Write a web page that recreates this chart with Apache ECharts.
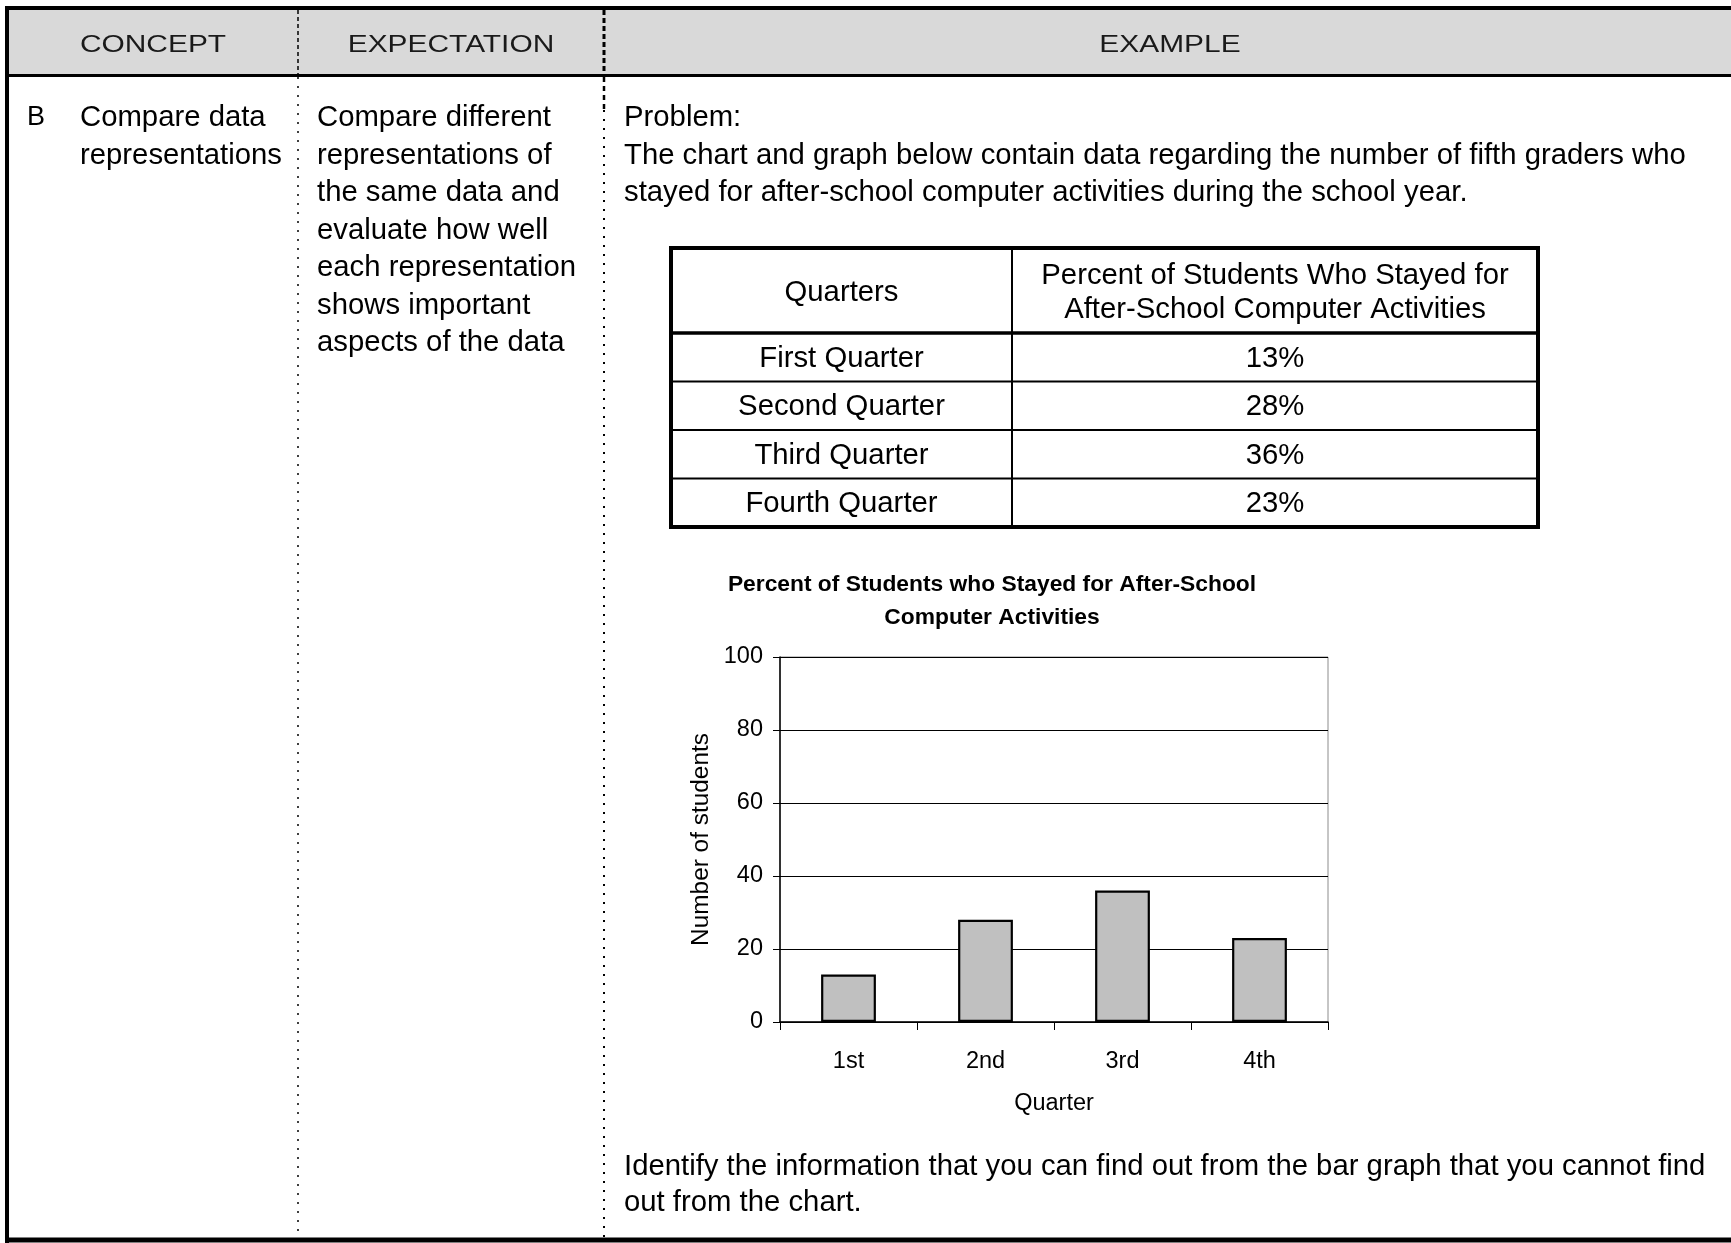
<!DOCTYPE html>
<html>
<head>
<meta charset="utf-8">
<title>Compare data representations</title>
<script src="https://cdn.jsdelivr.net/npm/echarts@6/dist/echarts.min.js"></script>
<style>
  html, body { margin: 0; padding: 0; background: #ffffff; }
  #main { width: 1731px; height: 1243px; }
</style>
</head>
<body>
<div id="main"></div>
<script>
// Quarter data shown both in the table and in the bar graph
const quarterNames = ['First Quarter', 'Second Quarter', 'Third Quarter', 'Fourth Quarter'];
const quarterTicks = ['1st', '2nd', '3rd', '4th'];
const percentStayed = [13, 28, 36, 23];

// Page text
const headerLabels = ['CONCEPT', 'EXPECTATION', 'EXAMPLE'];
const conceptLines = ['Compare data', 'representations'];
const expectationLines = [
  'Compare different',
  'representations of',
  'the same data and',
  'evaluate how well',
  'each representation',
  'shows important',
  'aspects of the data'
];
const problemLines = [
  'Problem:',
  'The chart and graph below contain data regarding the number of fifth graders who',
  'stayed for after-school computer activities during the school year.'
];
const questionLines = [
  'Identify the information that you can find out from the bar graph that you cannot find',
  'out from the chart.'
];
const tableHeader = ['Quarters', 'Percent of Students Who Stayed for\nAfter-School Computer Activities'];
const chartTitle = 'Percent of Students who Stayed for After-School\nComputer Activities';

const FONT = '"Liberation Sans", Arial, Helvetica, sans-serif';
const BODY = 29.3;

function txt(x, y, text, opts) {
  opts = opts || {};
  return {
    type: 'text',
    x: x, y: y,
    scaleX: opts.scaleX || 1,
    z: 10,
    style: {
      text: text,
      fill: opts.fill || '#000',
      fontFamily: FONT,
      fontSize: opts.size || BODY,
      fontWeight: opts.weight || 'normal',
      lineHeight: opts.lineHeight || 34,
      align: opts.align || 'left',
      verticalAlign: 'middle',
      textAlign: opts.align || 'left',
      textVerticalAlign: 'middle'
    }
  };
}
function hline(x1, x2, y, w, dash) {
  return { type: 'line', z: 5, shape: { x1: x1, y1: y, x2: x2, y2: y },
    style: { stroke: '#000', lineWidth: w, lineDash: dash || null } };
}
function vline(x, y1, y2, w, dash) {
  return { type: 'line', z: 5, shape: { x1: x, y1: y1, x2: x, y2: y2 },
    style: { stroke: '#000', lineWidth: w, lineDash: dash || null } };
}

const g = [];

// Header band and frame
g.push({ type: 'rect', z: 1, shape: { x: 9, y: 10, width: 1722, height: 65 }, style: { fill: '#d9d9d9' } });
g.push(hline(5, 1731, 8, 4));
g.push(hline(5, 1731, 75.5, 3));
g.push(hline(5, 1731, 1240, 5));
g.push(vline(7, 6, 1243, 4));

// Column dividers
g.push(vline(298, 10, 75, 1.5, [4, 3]));
g.push(vline(298, 77, 1237, 1.5, [2, 7]));
g.push(vline(604, 10, 75, 3, [5, 3]));
g.push(vline(604, 77, 110, 2.5, [5, 4]));
g.push(vline(604, 110, 1237, 2, [2, 7]));

// Header labels
const headerX = [153, 451, 1170];
headerLabels.forEach((t, i) => g.push(txt(headerX[i], 46, t, { size: 23, align: 'center', scaleX: 1.3, fill: '#1a1a1a' })));

// Concept / expectation columns
const LINE = 37.5;
const TOP = 118;
g.push(txt(27, TOP, 'B', { size: 27 }));
conceptLines.forEach((t, i) => g.push(txt(80, TOP + i * LINE, t)));
expectationLines.forEach((t, i) => g.push(txt(317, TOP + i * LINE, t)));

// Example column
problemLines.forEach((t, i) => g.push(txt(624, TOP + i * LINE, t)));
questionLines.forEach((t, i) => g.push(txt(624, 1167 + i * 36, t)));

// Data table
const tL = 671, tR = 1538, tM = 1012, tTop = 248, tHead = 333, rowH = 48.5;
g.push({ type: 'rect', z: 5, shape: { x: tL, y: tTop, width: tR - tL, height: tHead + rowH * 4 - tTop },
  style: { fill: 'none', stroke: '#000', lineWidth: 4 } });
g.push(hline(tL, tR, tHead, 3.5));
for (let r = 1; r < quarterNames.length; r++) g.push(hline(tL, tR, tHead + r * rowH, 2));
g.push(vline(tM, tTop, tHead + rowH * 4, 2));
g.push(txt((tL + tM) / 2, (tTop + tHead) / 2 + 2, tableHeader[0], { align: 'center' }));
g.push(txt((tM + tR) / 2, (tTop + tHead) / 2 + 2, tableHeader[1], { align: 'center', lineHeight: 34 }));
quarterNames.forEach((q, r) => {
  const cy = tHead + rowH * (r + 0.5) + 1.5;
  g.push(txt((tL + tM) / 2, cy, q, { align: 'center' }));
  g.push(txt((tM + tR) / 2, cy, percentStayed[r] + '%', { align: 'center' }));
});

const option = {
  animation: false,
  backgroundColor: '#ffffff',
  textStyle: { fontFamily: FONT },
  title: {
    text: chartTitle,
    left: 992,
    top: 568,
    padding: 0,
    textAlign: 'center',
    textStyle: { fontFamily: FONT, fontSize: 22.8, fontWeight: 'bold', color: '#000', lineHeight: 33 }
  },
  grid: {
    left: 780, top: 657, width: 548, height: 365,
    show: true, borderColor: '#8c8c8c', borderWidth: 1, backgroundColor: 'transparent',
    containLabel: false
  },
  xAxis: {
    type: 'category',
    data: quarterTicks,
    name: 'Quarter',
    nameLocation: 'middle',
    nameGap: 70,
    nameTextStyle: { fontFamily: FONT, fontSize: 23.5, color: '#000' },
    axisLine: { lineStyle: { color: '#000', width: 1.5 } },
    axisTick: { show: true, length: 8, lineStyle: { color: '#000', width: 1 } },
    axisLabel: { margin: 28, fontFamily: FONT, fontSize: 23.5, color: '#000' },
    splitLine: { show: false }
  },
  yAxis: {
    type: 'value',
    min: 0, max: 100, interval: 20,
    name: 'Number of students',
    nameLocation: 'middle',
    nameRotate: 90,
    nameGap: 67,
    nameTextStyle: { fontFamily: FONT, fontSize: 24.4, color: '#000' },
    axisLine: { show: true, lineStyle: { color: '#000', width: 1.5 } },
    axisTick: { show: true, length: 7, lineStyle: { color: '#000', width: 1 } },
    axisLabel: { margin: 17, fontFamily: FONT, fontSize: 23.5, color: '#000' },
    splitLine: { show: true, lineStyle: { color: '#000', width: 1 } }
  },
  series: [{
    type: 'bar',
    data: percentStayed,
    barWidth: '40%',
    itemStyle: { color: '#c0c0c0', borderColor: '#000', borderWidth: 2.2 },
    z: 3
  }],
  graphic: { elements: g }
};

const chart = echarts.init(document.getElementById('main'), null, { renderer: 'canvas' });
chart.setOption(option);
</script>
</body>
</html>
